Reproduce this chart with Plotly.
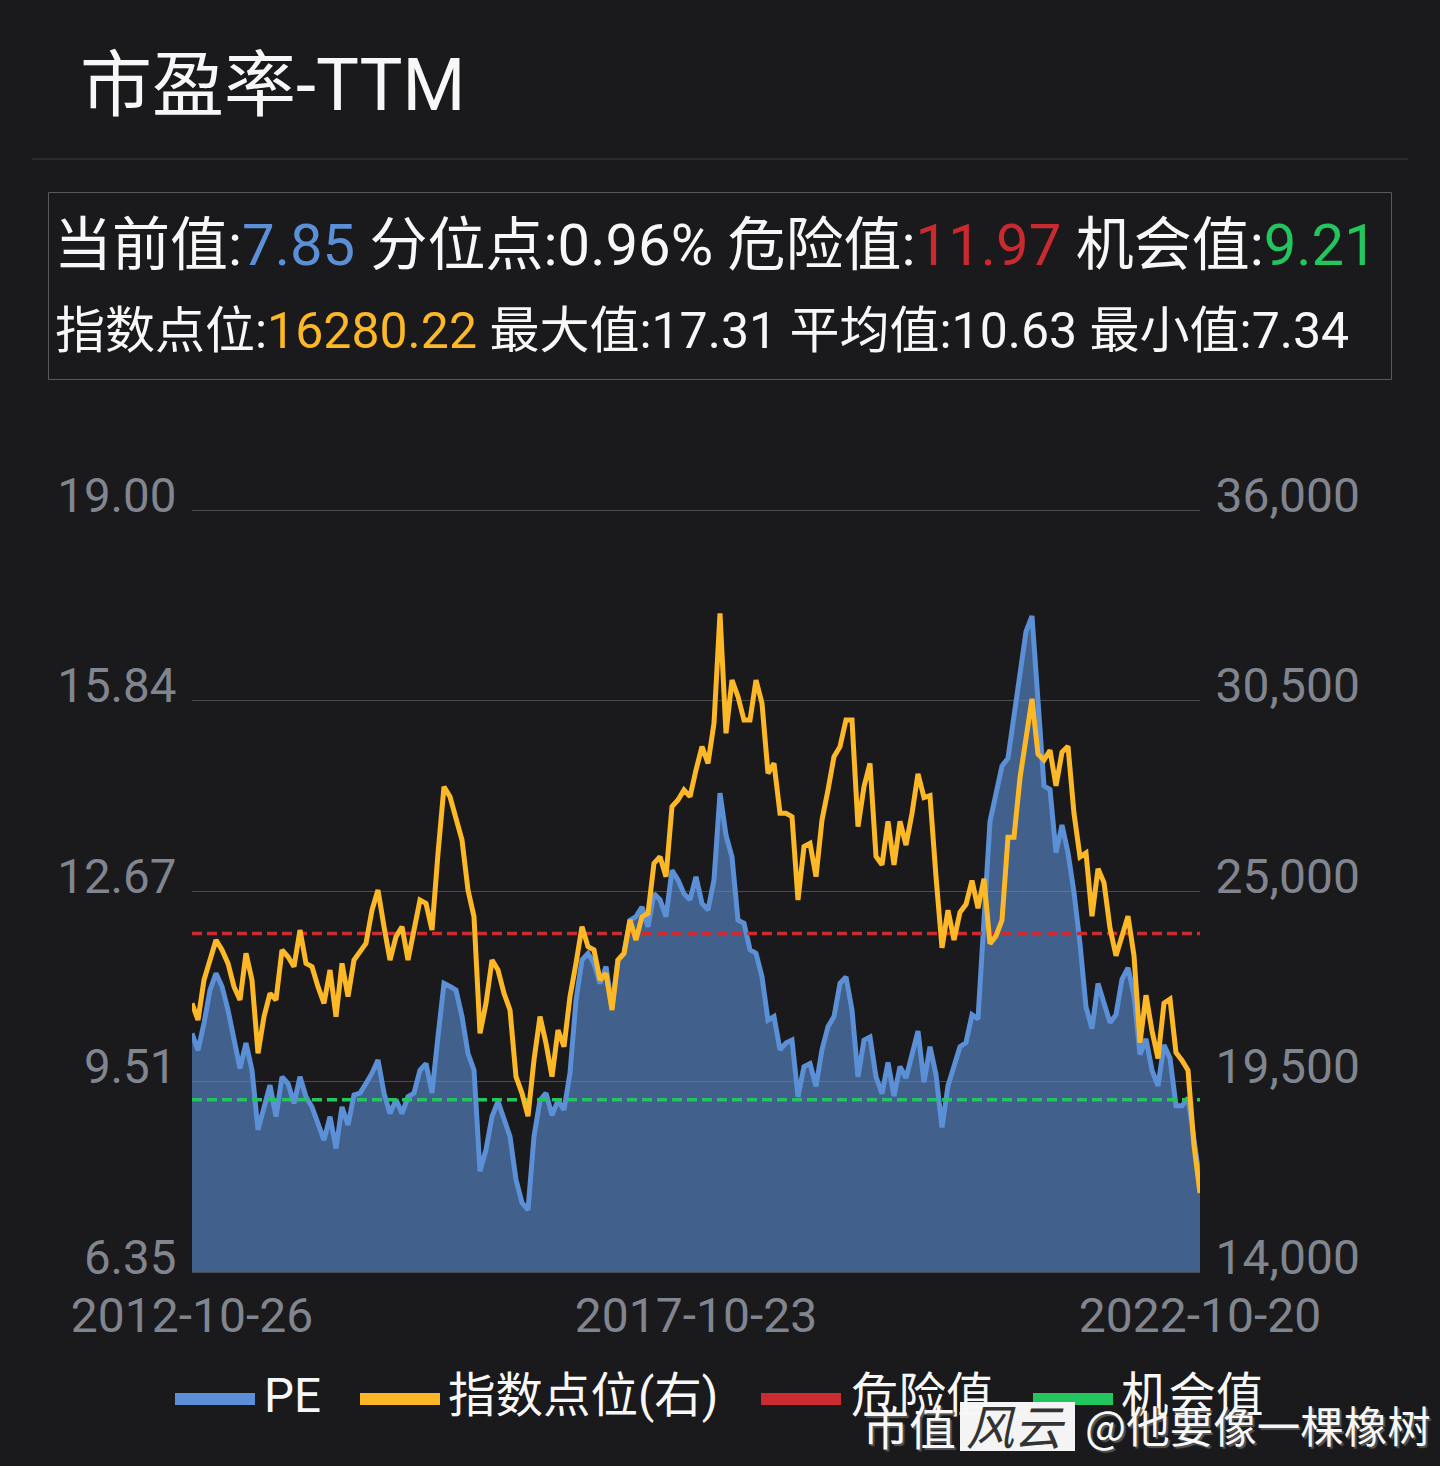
import pandas as pd
import plotly.graph_objects as go

# ---------- data ----------
start_date = "2012-10-26"
mid_date = "2017-10-23"
end_date = "2022-10-20"

pe_values = [
    10.31,10.03,10.48,11.03,11.31,11.09,10.70,10.26,9.73,10.15,9.70,8.71,9.09,9.45,8.93,9.59,9.48,9.15,9.59,9.26,
    9.09,8.82,8.54,8.93,8.40,9.09,8.79,9.29,9.32,9.48,9.65,9.87,9.32,8.98,9.21,8.98,9.26,9.32,9.70,9.81,
    9.32,10.26,11.14,11.09,11.03,10.59,9.98,9.70,8.02,8.38,8.93,9.18,8.87,8.60,7.88,7.50,7.38,
    8.60,9.20,9.32,8.95,9.20,9.04,9.65,10.86,11.53,11.64,11.47,11.14,11.42,10.76,11.53,11.64,12.19,12.25,12.41,
    12.08,12.63,12.53,12.25,13.02,12.86,12.63,12.53,12.91,12.47,12.36,12.86,14.30,13.60,13.24,12.19,12.14,11.70,11.64,11.25,
    10.53,10.59,10.04,10.15,10.20,9.26,9.76,9.81,9.43,10.04,10.42,10.59,11.14,11.25,10.70,9.59,10.20,10.25,9.59,
    9.31,9.83,9.27,9.76,9.57,9.96,10.35,9.50,10.09,9.63,8.75,9.44,9.76,10.09,10.16,10.62,10.55,12.06,13.83,14.29,
    14.75,14.88,15.60,16.32,16.98,17.24,15.87,14.42,14.36,13.31,13.77,13.31,12.65,11.80,10.75,10.39,11.14,10.81,10.49,10.62,
    11.21,11.40,10.94,9.96,10.22,9.70,9.44,10.12,9.90,9.11,9.11,9.24,8.52,7.85,
]
index_values = [
    21756,21275,22430,23007,23585,23296,22911,22237,21852,23200,22430,20313,21371,22045,21852,23296,23103,22815,23873,22911,
    22815,22237,21756,22718,21371,22911,21949,23007,23248,23488,24451,25028,23970,23007,23681,23970,23007,23873,24739,24643,
    23873,26087,28011,27722,27145,26471,25028,24258,20890,21756,23007,22718,22045,21564,19639,19158,18500,
    20121,21372,20603,19640,20987,20506,21950,22912,23970,23393,23297,22431,22623,21565,23008,23201,24163,23586,24259,24355,
    25799,25991,25414,27435,27627,27916,27723,28493,29167,28686,29840,33016,29552,31091,30610,29937,29937,31091,30418,28397,
    28686,27242,27242,27146,24740,26280,26376,25414,27050,27916,28878,29167,29937,29937,26857,28012,28686,26000,
    25756,27011,25756,27011,26327,27240,28381,27696,27753,25414,23360,24444,23588,24387,24615,25300,24501,25357,23474,23702,
    24159,26555,26555,28266,29407,30548,28951,28780,29065,28038,29008,29179,27240,25984,26098,24273,25642,25243,23931,23132,
    23702,24273,23132,20622,21991,20964,20165,21763,21877,20336,20109,19823,17655,16280,
]
danger_value = 11.97
chance_value = 9.21

left_ticks = [6.35, 9.51, 12.67, 15.84, 19.00]
right_ticks = [14000, 19500, 25000, 30500, 36000]

BG = "#1a1a1c"
BLUE = "#5b8fd6"
ORANGE = "#fcb827"
RED = "#cc2b31"
GREEN = "#22c55e"
GREY = "#80858f"
WHITE = "#f7f7f7"
GRID = "#4a4c50"
FONT = "Roboto, 'Noto Sans CJK SC', sans-serif"
CJK = "'Noto Sans CJK SC', sans-serif"

W, H = 1440, 1466
X = lambda px: px / W
Y = lambda py: 1 - py / H

dates = pd.date_range(start_date, end_date, periods=len(pe_values))

fig = go.Figure()
fig.add_trace(go.Scatter(x=dates, y=pe_values, name="PE", mode="lines",
                         line=dict(color=BLUE, width=5), fill="tozeroy",
                         fillcolor="rgba(91,143,214,0.6)", yaxis="y"))
fig.add_trace(go.Scatter(x=dates, y=[danger_value] * len(dates), name="危险值", mode="lines",
                         line=dict(color=RED, width=3.5, dash="10px,5px"), yaxis="y"))
fig.add_trace(go.Scatter(x=dates, y=[chance_value] * len(dates), name="机会值", mode="lines",
                         line=dict(color=GREEN, width=3.5, dash="10px,5px"), yaxis="y"))
fig.add_trace(go.Scatter(x=dates, y=index_values, name="指数点位(右)", mode="lines",
                         line=dict(color=ORANGE, width=5), yaxis="y2"))

annotations = []
def text(px, py, s, size, color=WHITE, anchor="left", family=FONT, shadow=None):
    font = dict(size=size, color=color, family=family)
    if shadow:
        font["shadow"] = shadow
    annotations.append(dict(x=X(px), y=Y(py), xref="paper", yref="paper", text=s, showarrow=False,
                            xanchor=anchor, yanchor="middle", font=font, borderpad=0, borderwidth=0))

def c(s, color):
    return f'<span style="color:{color}">{s}</span>'

text(80, 85, "市盈率-TTM", 72)
text(54, 245, "当前值:" + c("7.85", BLUE) + " 分位点:0.96% 危险值:" + c("11.97", "#c82a30") + " 机会值:" + c("9.21", GREEN), 58)
text(55, 331, "指数点位:" + c("16280.22", ORANGE) + " 最大值:17.31 平均值:10.63 最小值:7.34", 50)

# legend row
legend_items = [("PE", BLUE, 175, 264), ("指数点位(右)", ORANGE, 360, 448), ("危险值", RED, 761, 851), ("机会值", GREEN, 1033, 1121)]
shapes = [
    dict(type="line", xref="paper", yref="paper", x0=X(32), x1=X(1408), y0=Y(159), y1=Y(159),
         line=dict(color="#3b3b3e", width=1)),
    dict(type="rect", xref="paper", yref="paper", x0=X(48.5), x1=X(1391.5), y0=Y(192.5), y1=Y(379.5),
         line=dict(color="#5a5a5d", width=1)),
    dict(type="line", xref="paper", yref="paper", x0=X(192), x1=X(1200), y0=Y(510.5), y1=Y(510.5),
         line=dict(color=GRID, width=1)),
]
for name, col, sx, tx in legend_items:
    shapes.append(dict(type="rect", xref="paper", yref="paper", x0=X(sx), x1=X(sx + 80), y0=Y(1393), y1=Y(1405),
                       fillcolor=col, line=dict(width=0)))
    text(tx, 1396, name, 47.5, family=FONT)

# watermark
shadow = "2px 2px 1px #555"
shapes.append(dict(type="rect", xref="paper", yref="paper", x0=X(960), x1=X(1075), y0=Y(1402), y1=Y(1451),
                   fillcolor="#f4f4f4", line=dict(width=0)))
text(862, 1424, "市值", 47, shadow=shadow, family=CJK)
text(966, 1424, "<i>风云</i>", 48, color="#333333", family=CJK)
text(1085, 1424, "@他要像一棵橡树", 43.5, shadow=shadow, family=CJK)

fig.update_layout(
    width=W, height=H, paper_bgcolor=BG, plot_bgcolor=BG, showlegend=False,
    margin=dict(l=0, r=0, t=0, b=0), annotations=annotations, shapes=shapes,
    xaxis=dict(domain=[X(192), X(1200)], type="date", range=[dates[0], dates[-1]],
               tickvals=[start_date, mid_date, end_date], ticktext=[start_date, mid_date, end_date],
               tickfont=dict(size=48, color=GREY, family=FONT), showgrid=False, zeroline=False,
               ticks="outside", ticklen=1, tickcolor="rgba(0,0,0,0)", tickangle=0,
               showline=True, linecolor=GRID, linewidth=1, automargin=False),
    yaxis=dict(domain=[Y(1272), Y(510)], range=[6.35, 19.0], tickvals=left_ticks,
               ticktext=[f"{v:.2f}" for v in left_ticks], ticklabelposition="outside", ticklabelshift=-15,
               tickfont=dict(size=47.5, color=GREY, family=FONT), gridcolor=GRID, gridwidth=1,
               zeroline=False, ticks="outside", ticklen=5, tickcolor="rgba(0,0,0,0)", automargin=False),
    yaxis2=dict(domain=[Y(1272), Y(510)], range=[14000, 36000], overlaying="y", side="right",
                tickvals=right_ticks, ticktext=[f"{v:,}" for v in right_ticks], ticklabelposition="outside",
                ticklabelshift=-15,
                tickfont=dict(size=48, color=GREY, family=FONT), showgrid=False, zeroline=False,
                ticks="outside", ticklen=5, tickcolor="rgba(0,0,0,0)", automargin=False),
)
fig.write_html("out.html", config=dict(displayModeBar=False),
               post_script="document.body.style.margin='0';document.body.style.background='#1a1a1c';")
